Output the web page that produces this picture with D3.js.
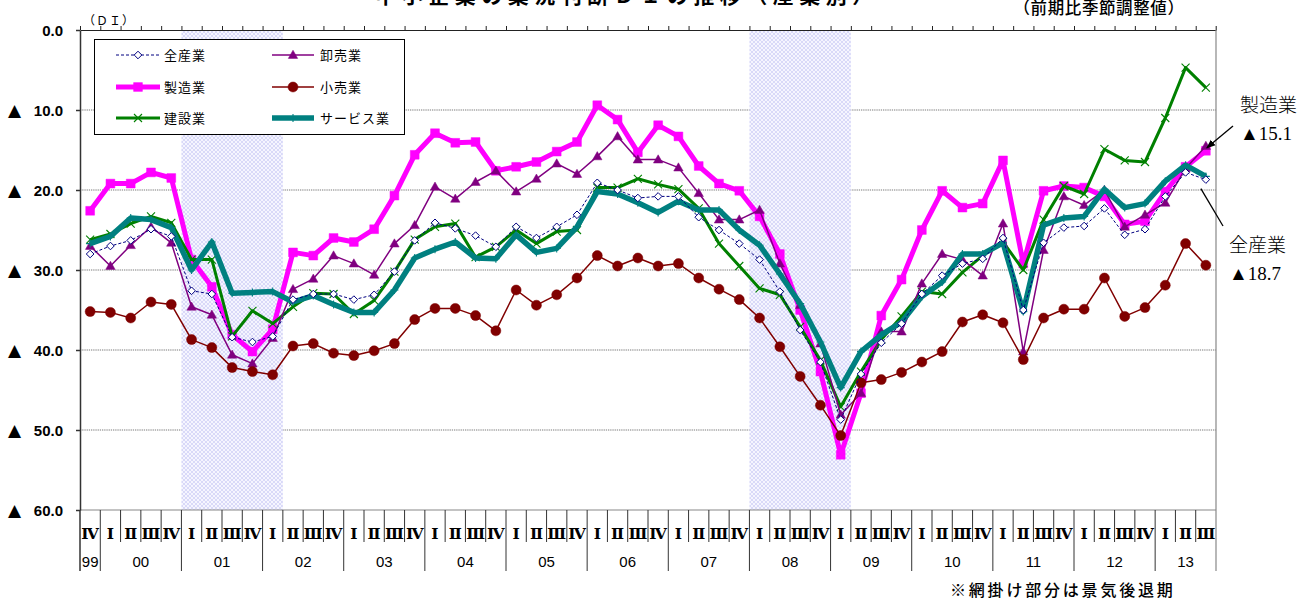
<!DOCTYPE html>
<html>
<head>
<meta charset="utf-8">
<script src="https://cdn.jsdelivr.net/npm/d3@7"></script>
<style>
  html, body { margin: 0; padding: 0; background: #fff; }
  svg { display: block; }
</style>
</head>
<body>
<svg id="chart" width="1305" height="600"></svg>
<script>
// Quarters, 1999 Q4 to 2013 Q3 (year + quarter numeral)
const periods = [
  "99Ⅳ",
  "00Ⅰ","00Ⅱ","00Ⅲ","00Ⅳ", "01Ⅰ","01Ⅱ","01Ⅲ","01Ⅳ", "02Ⅰ","02Ⅱ","02Ⅲ","02Ⅳ",
  "03Ⅰ","03Ⅱ","03Ⅲ","03Ⅳ", "04Ⅰ","04Ⅱ","04Ⅲ","04Ⅳ", "05Ⅰ","05Ⅱ","05Ⅲ","05Ⅳ",
  "06Ⅰ","06Ⅱ","06Ⅲ","06Ⅳ", "07Ⅰ","07Ⅱ","07Ⅲ","07Ⅳ", "08Ⅰ","08Ⅱ","08Ⅲ","08Ⅳ",
  "09Ⅰ","09Ⅱ","09Ⅲ","09Ⅳ", "10Ⅰ","10Ⅱ","10Ⅲ","10Ⅳ", "11Ⅰ","11Ⅱ","11Ⅲ","11Ⅳ",
  "12Ⅰ","12Ⅱ","12Ⅲ","12Ⅳ", "13Ⅰ","13Ⅱ","13Ⅲ"
];
const years = ["99","00","01","02","03","04","05","06","07","08","09","10","11","12","13"];

// Business condition DI by industry (negative = ▲)
const allIndustries = [-28.0,-27.0,-26.3,-24.9,-25.8,-32.6,-33.0,-38.4,-39.0,-38.3,-33.7,-33.0,-33.0,-33.7,-33.1,-30.2,-26.3,-24.1,-24.8,-25.7,-27.1,-24.6,-26.0,-24.6,-23.1,-19.1,-20.0,-21.0,-20.8,-20.8,-23.4,-25.0,-26.7,-28.7,-32.7,-37.5,-41.5,-48.7,-43.0,-39.1,-36.7,-33.0,-30.7,-29.2,-28.6,-26.0,-35.0,-26.6,-24.7,-24.5,-22.3,-25.6,-24.9,-20.8,-17.8,-18.7];
const manufacturing = [-22.6,-19.2,-19.2,-17.8,-18.5,-28.7,-32.1,-38.1,-40.2,-37.4,-27.8,-28.2,-26.0,-26.5,-24.9,-20.7,-15.6,-12.9,-14.1,-14.0,-17.6,-17.1,-16.5,-15.2,-14.0,-9.4,-11.2,-15.3,-11.9,-13.3,-17.0,-19.2,-20.1,-23.3,-28.0,-35.0,-42.7,-53.1,-45.4,-35.7,-31.2,-25.0,-20.1,-22.2,-21.7,-16.3,-29.2,-20.1,-19.5,-19.7,-20.8,-24.3,-23.9,-20.2,-17.1,-15.1];
const construction = [-26.2,-25.5,-24.2,-23.3,-24.1,-28.7,-28.7,-38.3,-35.1,-36.7,-34.6,-32.9,-33.0,-35.5,-33.8,-30.2,-26.2,-24.6,-24.2,-28.4,-27.1,-25.0,-26.7,-25.2,-25.0,-19.7,-19.7,-18.6,-19.3,-19.9,-22.3,-26.7,-29.5,-32.3,-33.1,-37.1,-41.3,-47.1,-42.7,-38.7,-35.8,-32.7,-33.0,-30.3,-28.2,-26.5,-30.0,-23.7,-19.5,-20.5,-14.9,-16.3,-16.5,-11.0,-4.7,-7.2];
const wholesale = [-27.0,-29.5,-26.9,-24.6,-26.6,-34.6,-35.6,-40.6,-41.7,-38.5,-32.4,-31.1,-28.2,-29.2,-30.6,-26.7,-24.4,-19.6,-21.1,-19.0,-17.6,-20.2,-18.6,-16.7,-18.0,-15.8,-13.3,-16.2,-16.2,-17.2,-20.4,-23.7,-23.7,-22.5,-29.2,-34.4,-39.2,-48.1,-45.4,-37.7,-37.7,-31.7,-28.0,-28.7,-30.7,-24.2,-40.2,-27.5,-20.8,-21.9,-20.0,-24.6,-23.1,-21.6,-17.3,-14.5];
const retail = [-35.2,-35.3,-36.0,-34.0,-34.3,-38.7,-39.7,-42.2,-42.7,-43.1,-39.5,-39.2,-40.4,-40.7,-40.1,-39.2,-36.2,-34.8,-34.8,-35.7,-37.6,-32.5,-34.4,-33.1,-31.0,-28.2,-29.5,-28.5,-29.5,-29.2,-31.0,-32.4,-33.7,-36.0,-39.6,-43.3,-46.9,-50.7,-44.1,-43.7,-42.8,-41.5,-40.2,-36.5,-35.6,-36.6,-41.2,-36.0,-34.9,-34.9,-31.0,-35.8,-34.7,-31.9,-26.7,-29.4];
const services = [-26.7,-25.8,-23.5,-23.7,-24.7,-30.0,-26.5,-32.9,-32.8,-32.7,-34.0,-33.2,-34.3,-35.3,-35.3,-32.5,-28.5,-27.4,-26.5,-28.5,-28.6,-25.6,-27.8,-27.3,-24.6,-20.2,-20.5,-21.6,-22.8,-21.4,-22.5,-22.5,-25.0,-26.9,-30.5,-34.2,-39.0,-44.7,-40.2,-38.1,-36.5,-33.3,-31.5,-28.0,-28.0,-26.6,-35.2,-24.4,-23.5,-23.3,-19.9,-22.2,-21.7,-18.9,-16.9,-18.3];

const yTicks = [0, -10, -20, -30, -40, -50, -60];
// Recession periods (first and last quarter, inclusive)
const recessions = [["01Ⅰ", "02Ⅰ"], ["08Ⅰ", "09Ⅰ"]];

const series = [
  { name: "製造業", values: manufacturing, color: "#ff00ff", width: 5, marker: "square" },
  { name: "建設業", values: construction, color: "#008000", width: 3, marker: "cross" },
  { name: "卸売業", values: wholesale, color: "#800080", width: 1.5, marker: "triangle" },
  { name: "小売業", values: retail, color: "#800000", width: 1.5, marker: "circle" },
  { name: "サービス業", values: services, color: "#008080", width: 5.5, marker: "plus" },
  { name: "全産業", values: allIndustries, color: "#000080", width: 1, dash: "3,2", marker: "diamond" }
];
const legendLeft = ["全産業", "製造業", "建設業"];
const legendRight = ["卸売業", "小売業", "サービス業"];

const svg = d3.select("#chart");
const plot = { left: 80, right: 1216, top: 30, bottom: 510 };
const x = d3.scaleBand().domain(periods).range([plot.left, plot.right]);
const xEdge = d3.scaleLinear().domain([0, periods.length]).range([plot.left, plot.right]);
const y = d3.scaleLinear().domain([0, -60]).range([plot.top, plot.bottom]);
const cx = p => x(p) + x.bandwidth() / 2;

const sansJP = "'Noto Sans CJK JP', sans-serif";
const arial = "'Liberation Sans', Arial, sans-serif";

// Hatch pattern for recession bands, arrow head for callout
const defs = svg.append("defs");
const hatch = defs.append("pattern").attr("id", "hatch")
  .attr("patternUnits", "userSpaceOnUse").attr("width", 4).attr("height", 4);
hatch.append("rect").attr("width", 4).attr("height", 4).attr("fill", "#f5f5ff");
hatch.append("path").attr("d", "M0,0L4,4M4,0L0,4")
  .attr("stroke", "#d2d2f6").attr("stroke-width", 0.8);
defs.append("marker").attr("id", "arrow")
  .attr("viewBox", "0 0 10 10").attr("refX", 9).attr("refY", 5)
  .attr("markerWidth", 7).attr("markerHeight", 7).attr("orient", "auto")
  .append("path").attr("d", "M0,1L10,5L0,9Z").attr("fill", "#000");

// Title and notes
svg.append("text").attr("x", 627).attr("y", 3).attr("text-anchor", "middle")
  .attr("font-family", sansJP).attr("font-size", 21).attr("font-weight", 700)
  .attr("letter-spacing", 5.5)
  .text("中小企業の業況判断ＤＩの推移（産業別）");
svg.append("text").attr("x", 1099).attr("y", 14).attr("text-anchor", "middle")
  .attr("font-family", sansJP).attr("font-size", 16.5).attr("font-weight", 500)
  .attr("letter-spacing", 0.6)
  .text("（前期比季節調整値）");
svg.append("text").attr("x", 83).attr("y", 25)
  .attr("font-family", sansJP).attr("font-size", 12).attr("letter-spacing", 1)
  .text("（ＤＩ）");
svg.append("text").attr("x", 950).attr("y", 596)
  .attr("font-family", sansJP).attr("font-size", 16).attr("font-weight", 500)
  .attr("letter-spacing", 2.8)
  .text("※網掛け部分は景気後退期");

// Gridlines
svg.append("g").selectAll("line").data(yTicks.filter(v => v !== 0 && v !== -60)).join("line")
  .attr("x1", plot.left).attr("x2", plot.right)
  .attr("y1", d => y(d)).attr("y2", d => y(d))
  .attr("stroke", "#7a7a7a").attr("stroke-width", 1.2).attr("stroke-dasharray", "1.3,0.9");

// Recession shading
svg.append("g").selectAll("rect").data(recessions).join("rect")
  .attr("x", d => x(d[0]))
  .attr("width", d => x(d[1]) + x.bandwidth() - x(d[0]))
  .attr("y", plot.top).attr("height", plot.bottom - plot.top)
  .attr("fill", "url(#hatch)");

// Top frame with quarter ticks
const topAxis = svg.append("g").attr("transform", `translate(0,${plot.top})`)
  .call(d3.axisTop(xEdge).tickValues(d3.range(periods.length + 1)).tickSize(4).tickSizeOuter(0).tickFormat(""));
topAxis.selectAll("path, line").attr("stroke", "#222").attr("stroke-width", 1);

// Bottom axis line and right frame
svg.append("line").attr("x1", plot.left).attr("x2", plot.right)
  .attr("y1", plot.bottom).attr("y2", plot.bottom).attr("stroke", "#888").attr("stroke-width", 1.2);
svg.append("line").attr("x1", plot.right).attr("x2", plot.right)
  .attr("y1", plot.top - 4).attr("y2", 571).attr("stroke", "#888").attr("stroke-width", 1.2);

// Left axis
const leftAxis = svg.append("g").attr("transform", `translate(${plot.left},0)`)
  .call(d3.axisLeft(y).tickValues(yTicks).tickSize(4).tickSizeOuter(0).tickFormat(""));
leftAxis.selectAll("path, line").attr("stroke", "#333").attr("stroke-width", 1.5);
svg.append("line").attr("x1", plot.left).attr("x2", plot.left)
  .attr("y1", plot.bottom).attr("y2", 571).attr("stroke", "#333").attr("stroke-width", 1.5);

const yLabels = svg.append("g").selectAll("g").data(yTicks).join("g");
yLabels.append("text").attr("x", 63).attr("y", d => y(d) + 5.5).attr("text-anchor", "end")
  .attr("font-family", arial).attr("font-size", 15).attr("font-weight", 700)
  .text(d => Math.abs(d).toFixed(1));
yLabels.filter(d => d < 0).append("text").attr("x", 8).attr("y", d => y(d) + 6)
  .attr("font-family", "'DejaVu Sans', sans-serif").attr("font-size", 17)
  .text("▲");

// Category table under the plot
const yearStarts = periods.map((p, i) => i).filter(i => i > 0 && periods[i].slice(0, 2) !== periods[i - 1].slice(0, 2));
svg.append("g").selectAll("line").data(d3.range(1, periods.length)).join("line")
  .attr("x1", i => xEdge(i)).attr("x2", i => xEdge(i))
  .attr("y1", plot.bottom).attr("y2", i => yearStarts.includes(i) ? 571 : 542)
  .attr("stroke", "#333").attr("stroke-width", 1);
svg.append("g").selectAll("text").data(periods).join("text")
  .attr("x", p => cx(p)).attr("y", 539).attr("text-anchor", "middle")
  .attr("font-family", "'DejaVu Serif', serif").attr("font-size", 15.5).attr("font-weight", 700)
  .text(p => p.slice(2));
svg.append("g").selectAll("text").data(years).join("text")
  .attr("x", yr => {
    const idx = periods.map((p, i) => i).filter(i => periods[i].slice(0, 2) === yr);
    return (xEdge(idx[0]) + xEdge(idx[idx.length - 1] + 1)) / 2;
  })
  .attr("y", 567).attr("text-anchor", "middle")
  .attr("font-family", arial).attr("font-size", 15)
  .text(yr => yr);

// Marker shapes
function markerPath(type) {
  switch (type) {
    case "diamond": return "M0,-3.8L3.8,0L0,3.8L-3.8,0Z";
    case "triangle": return "M0,-4.8L4.7,3.4L-4.7,3.4Z";
    case "square": return "M-4.4,-4.4H4.4V4.4H-4.4Z";
    case "circle": return d3.symbol(d3.symbolCircle, Math.PI * 25)();
    case "cross": return "M-4,-4L4,4M4,-4L-4,4";
    case "plus": return "M-4,0H4M0,-4V4";
  }
}
function markerStyle(sel, s) {
  const open = s.marker === "diamond";
  const stroked = s.marker === "cross" || s.marker === "plus";
  sel.attr("d", markerPath(s.marker))
    .attr("fill", open ? "#fff" : (stroked ? "none" : s.color))
    .attr("stroke", s.color)
    .attr("stroke-width", stroked ? 1.1 : (open ? 1 : 0.5));
}

// Series lines and markers
const line = d3.line().x((d, i) => cx(periods[i])).y(d => y(d));
series.forEach(s => {
  const g = svg.append("g");
  g.append("path").datum(s.values).attr("d", line)
    .attr("fill", "none").attr("stroke", s.color).attr("stroke-width", s.width)
    .attr("stroke-linejoin", "round").attr("stroke-dasharray", s.dash || null);
  g.selectAll("path.pt").data(s.values).join("path").attr("class", "pt")
    .attr("transform", (d, i) => `translate(${cx(periods[i])},${y(d)})`)
    .call(markerStyle, s);
});

// Legend
const legend = svg.append("g");
legend.append("rect").attr("x", 94.5).attr("y", 39.5).attr("width", 310).attr("height", 95)
  .attr("fill", "#fff").attr("stroke", "#000").attr("stroke-width", 1);
const legendRows = [55, 87, 118];
function legendEntry(name, row, x1, x2, tx) {
  const s = series.find(d => d.name === name);
  const yy = legendRows[row];
  legend.append("line").attr("x1", x1).attr("x2", x2).attr("y1", yy).attr("y2", yy)
    .attr("stroke", s.color).attr("stroke-width", s.width).attr("stroke-dasharray", s.dash || null);
  legend.append("path").attr("transform", `translate(${(x1 + x2) / 2},${yy})`).call(markerStyle, s);
  legend.append("text").attr("x", tx).attr("y", yy + 5)
    .attr("font-family", sansJP).attr("font-size", 13).attr("letter-spacing", 1)
    .text(name);
}
legendLeft.forEach((n, i) => legendEntry(n, i, 116, 160, 164));
legendRight.forEach((n, i) => legendEntry(n, i, 272, 314, 320));

// Callouts for the latest quarter
const last = periods[periods.length - 1];
const lastX = cx(last);
const mfgLast = manufacturing[manufacturing.length - 1];
const allLast = allIndustries[allIndustries.length - 1];
const calloutFont = "'Noto Sans CJK JP', serif";
svg.append("line").attr("x1", 1233).attr("y1", 126)
  .attr("x2", lastX + 1).attr("y2", y(mfgLast) - 3)
  .attr("stroke", "#000").attr("stroke-width", 1.3).attr("marker-end", "url(#arrow)");
svg.append("text").attr("x", 1240).attr("y", 112).attr("font-family", calloutFont)
  .attr("font-size", 19).attr("font-weight", 300).text("製造業");
svg.append("text").attr("x", 1240).attr("y", 140).attr("font-family", "'Liberation Serif', serif")
  .attr("font-size", 19).text("▲" + Math.abs(mfgLast).toFixed(1));
svg.append("line").attr("x1", lastX - 5).attr("y1", y(allLast) + 9)
  .attr("x2", 1223).attr("y2", 226)
  .attr("stroke", "#000").attr("stroke-width", 1.3);
svg.append("text").attr("x", 1229).attr("y", 252).attr("font-family", calloutFont)
  .attr("font-size", 19).attr("font-weight", 300).text("全産業");
svg.append("text").attr("x", 1229).attr("y", 280).attr("font-family", "'Liberation Serif', serif")
  .attr("font-size", 19).text("▲" + Math.abs(allLast).toFixed(1));
</script>
</body>
</html>
